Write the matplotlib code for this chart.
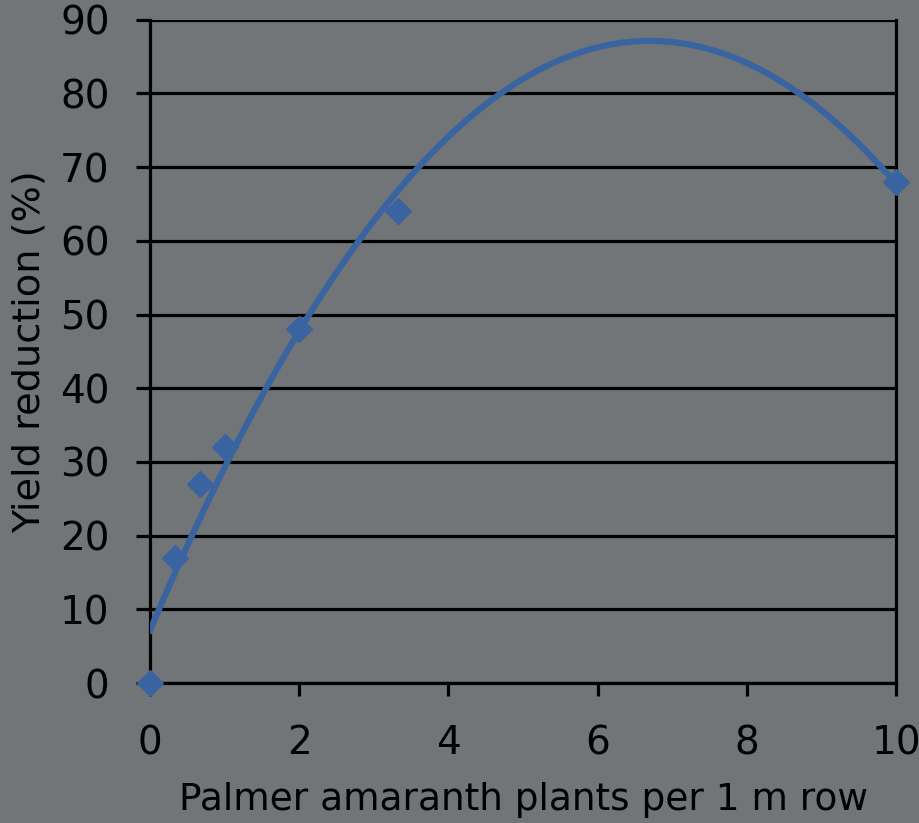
import numpy as np
import matplotlib.pyplot as plt

plants = [0, 0.33, 0.67, 1, 2, 3.33, 10]
yield_loss = [0, 17, 27, 32, 48, 64, 68]

bg = '#717578'
blue = '#3a64a0'

# quadratic trendline through the observed points
coef = np.polyfit(plants, yield_loss, 2)
x_fit = np.linspace(0, 10, 200)
y_fit = np.polyval(coef, x_fit)

fig = plt.figure(figsize=(9.2, 8.23), dpi=100, facecolor=bg)
ax = fig.add_axes([0.163, 0.170, 0.811, 0.806])
ax.set_facecolor(bg)

ax.plot(x_fit, y_fit, color=blue, linewidth=4.5, zorder=3)
ax.plot(plants, yield_loss, linestyle='', marker='D', markersize=13,
        color=blue, zorder=4, clip_on=False)

ax.set_xlim(0, 10)
ax.set_ylim(0, 90)
ax.set_xticks(np.arange(0, 11, 2))
ax.set_yticks(np.arange(0, 91, 10))
ax.yaxis.grid(True, color='black', linewidth=2.3)
ax.set_axisbelow(True)

ax.spines['top'].set_visible(False)
for side in ['left', 'bottom', 'right']:
    ax.spines[side].set_linewidth(2.3)
    ax.spines[side].set_color('black')

ax.tick_params(axis='both', colors='black', labelsize=28, width=2.3, length=10)
ax.tick_params(axis='x', length=9.5, pad=20)
ax.tick_params(axis='y', pad=19)

ax.set_xlabel('Palmer amaranth plants per 1 m row', fontsize=27, color='black', labelpad=14)
ax.set_ylabel('Yield reduction (%)', fontsize=27.5, color='black', labelpad=9)

fig.savefig('out.png', dpi=100, facecolor=bg)
